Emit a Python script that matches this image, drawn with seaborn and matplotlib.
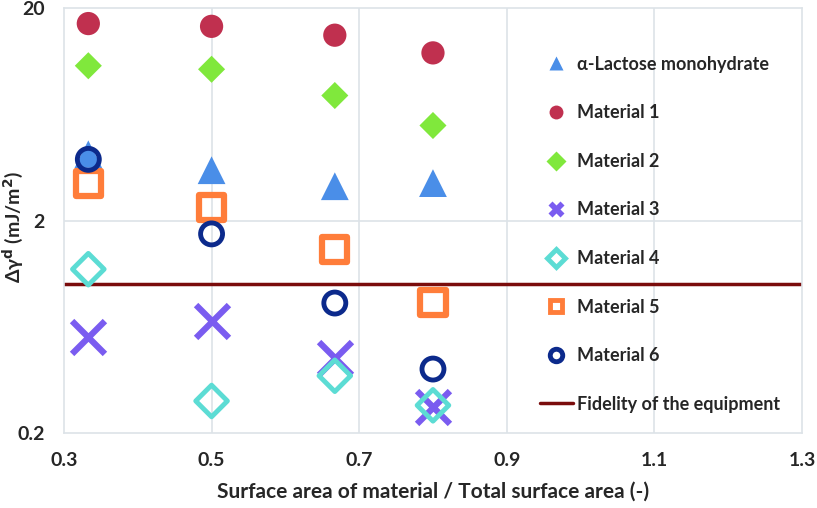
import matplotlib
matplotlib.use("Agg")
import matplotlib.pyplot as plt
from matplotlib.lines import Line2D
import seaborn as sns
import pandas as pd

ratio = [0.333, 0.5, 0.667, 0.8]

lactose = [4.1, 3.45, 2.9, 3.0]
material1 = [16.9, 16.4, 14.9, 12.3]
material2 = [10.7, 10.3, 7.75, 5.6]
material3 = [0.565, 0.67, 0.45, 0.266]
material4 = [1.18, 0.283, 0.372, 0.27]
material5 = [2.99, 2.31, 1.46, 0.82]
material6 = [3.88, 1.73, 0.818, 0.40]
fidelity = 1.0

labels = ["α-Lactose monohydrate", "Material 1", "Material 2", "Material 3",
          "Material 4", "Material 5", "Material 6"]
series = [lactose, material1, material2, material3, material4, material5, material6]

# marker, colour, filled, size, edge width
styles = [
    ("^", "#4a8ee8", True, 400, 0),
    ("o", "#c0304f", True, 280, 0),
    ("D", "#80e83c", True, 190, 0),
    ("x", "#7a5cf0", False, 560, 4.5),
    ("D", "#5cdcd4", False, 260, 3.5),
    ("s", "#ff7d3a", False, 330, 4.5),
    ("o", "#0c2a8c", False, 250, 3.5),
]

sns.set_style("white")
plt.rcParams['font.family'] = ['Lato', 'DejaVu Sans']
plt.rcParams['font.weight'] = 'bold'
plt.rcParams['mathtext.default'] = 'bf'

fig = plt.figure(figsize=(8.17, 5.08), dpi=100)
ax = fig.add_axes([0.0783, 0.1476, 0.9033, 0.8366])

for xv in [0.5, 0.7, 0.9, 1.1]:
    ax.axvline(xv, color="#dde3e8", lw=1.2, zorder=0)
ax.axhline(2, color="#dde3e8", lw=1.2, zorder=0)

ax.axhline(fidelity, color="#7a0c0c", lw=2.5, zorder=1)

for lab, vals, (m, c, filled, s, lw) in zip(labels, series, styles):
    df = pd.DataFrame({"x": ratio, "y": vals})
    if m == "x":
        sns.scatterplot(data=df, x="x", y="y", marker=m, s=s, color=c,
                        linewidth=lw, ax=ax, zorder=3)
    elif filled:
        sns.scatterplot(data=df, x="x", y="y", marker=m, s=s, color=c,
                        edgecolor="none", ax=ax, zorder=3)
    else:
        sns.scatterplot(data=df, x="x", y="y", marker=m, s=s, facecolor="none",
                        edgecolor=c, linewidth=lw, ax=ax, zorder=3)

ax.set_yscale("log")
ax.set_ylim(0.2, 20)
ax.set_xlim(0.3, 1.3)
ax.set_xticks([0.3, 0.5, 0.7, 0.9, 1.1, 1.3])
ax.set_xticklabels(["0.3", "0.5", "0.7", "0.9", "1.1", "1.3"])
ax.set_yticks([0.2, 2, 20])
ax.set_yticklabels(["0.2", "2", "20"])
ax.minorticks_off()
ax.tick_params(axis="both", length=0, labelsize=14, pad=14)
for t in ax.get_xticklabels() + ax.get_yticklabels():
    t.set_fontweight("bold")
for sp in ax.spines.values():
    sp.set_color("#dde3e8")
    sp.set_linewidth(1.2)

ax.set_xlabel("Surface area of material / Total surface area (-)", fontsize=15,
              fontweight="bold", labelpad=9)
ax.set_ylabel(r"Δγ$^{d}$ (mJ/m$^{2}$)", fontsize=14, fontweight="bold")
ax.yaxis.set_label_coords(-0.052, 0.485)

# legend markers are drawn smaller than the plotted ones
handles = []
for lab, (m, c, filled, s, lw) in zip(labels, styles):
    if m == "x":
        h = Line2D([], [], ls="", marker="X", color=c, markersize=12, mec="none")
    elif filled:
        h = Line2D([], [], ls="", marker=m, color=c, markersize=10, mec="none")
    else:
        h = Line2D([], [], ls="", marker=m, mfc="white", mec=c, mew=3.5,
                   markersize=9)
    handles.append(h)
handles.append(Line2D([], [], color="#7a0c0c", lw=2.5))
leg = ax.legend(handles, labels + ["Fidelity of the equipment"], loc="upper left",
                bbox_to_anchor=(0.645, 0.888), frameon=False,
                labelspacing=1.75, handlelength=1.83, handletextpad=0.22,
                borderaxespad=0, borderpad=0,
                prop={"weight": "bold", "size": 13})

fig.savefig("out.png", dpi=100)
